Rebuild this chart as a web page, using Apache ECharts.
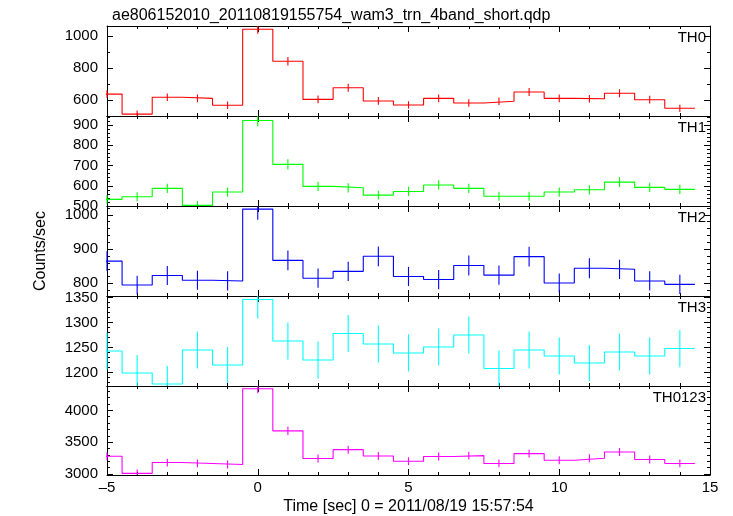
<!DOCTYPE html>
<html>
<head>
<meta charset="utf-8">
<script src="https://cdn.jsdelivr.net/npm/echarts@6/dist/echarts.min.js"></script>
<style>html,body{margin:0;padding:0;background:#fff;}#c{width:733px;height:516px;}</style>
</head>
<body>
<div id="c"></div>
<script>
// ---- data ----
const titleText = 'ae806152010_20110819155754_wam3_trn_4band_short.qdp';
const xLabel = 'Time [sec] 0 = 2011/08/19 15:57:54';
const yLabel = 'Counts/sec';
const binCenters = [-5,-4,-3,-2,-1,0,1,2,3,4,5,6,7,8,9,10,11,12,13,14];
const binWidth = 1;
const panelNames = ['TH0','TH1','TH2','TH3','TH0123'];
const panelColors = ['#ff0000','#00ff00','#0000ff','#00ffff','#ff00ff'];

const th0 = [637,512,617,610,567,1042,842,604,677,594,569,610,581,592,650,610,608,642,602,548];
const th0Err = [24,22,24,24,23,28,26,24,25,24,23,24,23,24,25,24,24,25,24,23];
const th1 = [533,546,587,503,569,923,706,597,590,554,572,604,587,548,548,569,580,618,592,582];
const th1Err = [22,22,23,21,23,29,25,23,23,22,23,23,23,22,22,23,23,24,23,23];
const th2 = [865,795,823,809,807,1017,867,815,835,879,820,811,852,824,878,801,844,841,807,797];
const th2Err = [29,27,28,28,28,31,29,28,28,29,28,28,29,28,29,28,29,28,28,28];
const th3 = [1243,1199,1177,1245,1215,1346,1263,1225,1278,1257,1239,1251,1275,1208,1245,1233,1219,1241,1233,1248];
const th3Err = [37,36,36,37,36,38,37,37,37,37,37,37,37,36,37,37,36,37,37,37];
const th0123 = [3280,3010,3181,3166,3150,4340,3678,3244,3383,3283,3202,3275,3290,3166,3321,3217,3248,3346,3228,3166];
const th0123Err = [62,60,61,61,61,70,66,62,63,62,61,62,62,61,62,62,62,63,62,61];

const panelValues = [th0, th1, th2, th3, th0123];
const panelErrors = [th0Err, th1Err, th2Err, th3Err, th0123Err];

// axis ranges and tick values per panel
const yMins = [500, 500, 763, 1173, 2985];
const yMaxs = [1062.5, 945, 1026, 1353, 4383];
const yMajor = [[600,800,1000],[500,600,700,800,900],[800,900,1000],[1200,1250,1300,1350],[3000,3500,4000]];
const yMinor = [
  [500,600,700,800,900,1000],
  [500,520,540,560,580,600,620,640,660,680,700,720,740,760,780,800,820,840,860,880,900,920,940],
  [780,800,820,840,860,880,900,920,940,960,980,1000,1020],
  [1180,1190,1200,1210,1220,1230,1240,1250,1260,1270,1280,1290,1300,1310,1320,1330,1340,1350],
  [3000,3100,3200,3300,3400,3500,3600,3700,3800,3900,4000,4100,4200,4300]
];
const xMin = -5, xMax = 15, xMajorStep = 5;

// ---- layout ----
const FONT = "'Liberation Sans', Arial, Helvetica, sans-serif";
const L = 107, R = 23, TOP0 = 26, PH = 90;

const grids = [], xAxes = [], yAxes = [], series = [], graphics = [];
const axisColor = '#000';

panelNames.forEach((name, i) => {
  grids.push({left: L, right: R, top: TOP0 + PH * i, height: PH});
  const isBottom = i === panelNames.length - 1;
  ['bottom','top'].forEach(pos => {
    xAxes.push({
      gridIndex: i, type: 'value', min: xMin, max: xMax, interval: xMajorStep, position: pos,
      axisLine: {show: true, onZero: false, lineStyle: {color: axisColor, width: 1}},
      axisTick: {show: true, inside: true, length: 6, lineStyle: {color: axisColor}},
      minorTick: {show: true, splitNumber: 5, length: 3, lineStyle: {color: axisColor}},
      splitLine: {show: false},
      axisLabel: {show: isBottom && pos === 'bottom', color: '#000', fontSize: 15, fontFamily: FONT, margin: 5,
        formatter: v => String(v).replace('-', '\u2013')},
      name: (isBottom && pos === 'bottom') ? xLabel : '',
      nameLocation: 'middle', nameGap: 24,
      nameTextStyle: {color: '#000', fontSize: 16, fontFamily: FONT}
    });
  });
  const baseY = yAxes.length;
  ['left','right'].forEach(pos => {
    // major
    yAxes.push({
      gridIndex: i, type: 'value', min: yMins[i], max: yMaxs[i], position: pos,
      axisLine: {show: true, onZero: false, lineStyle: {color: axisColor, width: 1}},
      axisTick: {show: true, inside: true, length: 6, customValues: yMajor[i], lineStyle: {color: axisColor}},
      splitLine: {show: false},
      axisLabel: {show: pos === 'left', customValues: yMajor[i], color: '#000', fontSize: 15, fontFamily: FONT, margin: 9,
        formatter: v => String(v)},
      name: (i === 2 && pos === 'left') ? yLabel : '',
      nameLocation: 'middle', nameGap: 58, nameRotate: 90,
      nameTextStyle: {color: '#000', fontSize: 16, fontFamily: FONT}
    });
    // minor
    yAxes.push({
      gridIndex: i, type: 'value', min: yMins[i], max: yMaxs[i], position: pos,
      axisLine: {show: false, onZero: false},
      axisTick: {show: true, inside: true, length: 3, customValues: yMinor[i], lineStyle: {color: axisColor}},
      splitLine: {show: false},
      axisLabel: {show: false}
    });
  });

  const vals = panelValues[i];
  const errs = panelErrors[i];
  // step histogram: left edges of each bin, plus right edge of last bin
  const stepData = binCenters.map((c, k) => [c - binWidth / 2, vals[k]]);
  stepData.push([binCenters[binCenters.length - 1] + binWidth / 2, vals[vals.length - 1]]);
  series.push({
    type: 'line', step: 'end', xAxisIndex: 2 * i, yAxisIndex: baseY,
    data: stepData, showSymbol: false, symbol: 'none', clip: true,
    lineStyle: {color: panelColors[i], width: 1.1}, animation: false, z: 3
  });
  // error bars
  const errData = binCenters.map((c, k) => [c, vals[k] - errs[k], vals[k] + errs[k]]);
  series.push({
    type: 'custom', xAxisIndex: 2 * i, yAxisIndex: baseY, data: errData, animation: false, z: 3,
    renderItem: (params, api) => {
      const cs = params.coordSys;
      const p1 = api.coord([api.value(0), api.value(1)]);
      const p2 = api.coord([api.value(0), api.value(2)]);
      if (p1[0] < cs.x - 0.5 || p1[0] > cs.x + cs.width + 0.5) return null;
      const yTop = Math.max(cs.y, Math.min(p1[1], p2[1]));
      const yBot = Math.min(cs.y + cs.height, Math.max(p1[1], p2[1]));
      return {type: 'line', shape: {x1: p1[0], y1: yTop, x2: p1[0], y2: yBot},
        style: {stroke: panelColors[i], lineWidth: 1.1}};
    }
  });
  graphics.push({
    type: 'text', x: 733 - R - 4, y: TOP0 + PH * i + 12,
    style: {text: name, fill: '#000', font: '15px ' + FONT, textAlign: 'right', textVerticalAlign: 'middle'}
  });
});

const chart = echarts.init(document.getElementById('c'), null, {renderer: 'canvas'});
chart.setOption({
  backgroundColor: '#fff',
  animation: false,
  title: {text: titleText, left: L, top: 3, textStyle: {fontSize: 16, fontWeight: 'normal', color: '#000', fontFamily: FONT}},
  grid: grids, xAxis: xAxes, yAxis: yAxes, series: series, graphic: graphics
});
</script>
</body>
</html>
